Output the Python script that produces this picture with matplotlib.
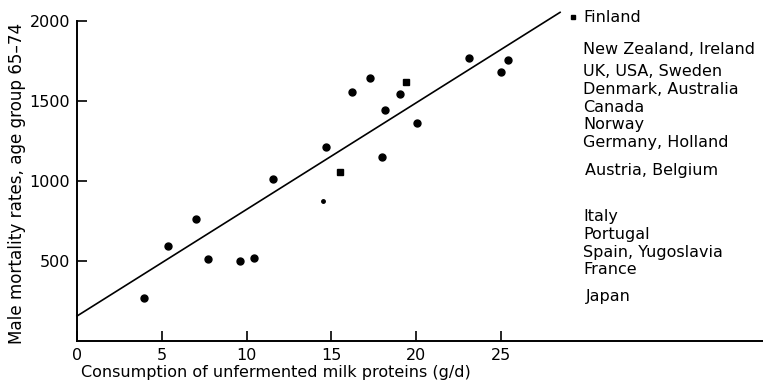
import matplotlib
matplotlib.use("Agg")
import matplotlib.pyplot as plt
import numpy as np

# ---- data ----
x_dots = [3.97, 5.35, 7.00, 7.75, 9.60, 10.46, 11.56, 14.71, 16.21, 17.30,
          18.15, 17.99, 19.07, 20.08, 23.14, 25.00, 25.43]
y_dots = [267, 596, 763, 513, 500, 521, 1013, 1213, 1554, 1642,
          1446, 1152, 1546, 1364, 1767, 1679, 1756]
x_squares = [15.50, 19.39]
y_squares = [1054, 1619]
x_small = [14.53]
y_small = [875]
finland_x = [29.26]
finland_y = [2025]

fit_intercept = 156
fit_slope = 66.6
fit_x = [0, 28.5]

x_ticks = [0, 5, 10, 15, 20, 25]
y_ticks = [500, 1000, 1500, 2000]

countries = ["Finland", "New Zealand, Ireland", "UK, USA, Sweden",
             "Denmark, Australia", "Canada", "Norway", "Germany, Holland",
             "Austria, Belgium", "Italy", "Portugal", "Spain, Yugoslavia",
             "France", "Japan"]
# pixel positions (y) of each label line in the figure
label_ypx = [17, 50, 71, 89, 107, 125, 143, 170, 216, 234, 252, 270, 297]
label_xpx = [583, 583, 583, 583, 583, 583, 583, 585, 583, 583, 583, 583, 586]

W, H = 763, 383
fig = plt.figure(figsize=(W / 100, H / 100), dpi=100)
ax = fig.add_axes([77 / W, (H - 341) / H, (W - 77) / W, 320 / H])
ax.set_xlim(0, (W - 77) / 16.95)
ax.set_ylim(0, 2000)

fs = 11.5
ax.plot(x_dots, y_dots, "o", color="black", ms=5, clip_on=False)
ax.plot(x_squares, y_squares, "s", color="black", ms=4.8, clip_on=False)
ax.plot(x_small, y_small, "o", color="black", ms=2.5, clip_on=False)
ax.plot(finland_x, finland_y, "s", color="black", ms=3.5, clip_on=False)

fx = np.array(fit_x)
ax.plot(fx, fit_intercept + fit_slope * fx, color="black", lw=1.2, clip_on=False)

for s in ["top", "right"]:
    ax.spines[s].set_visible(False)
for s in ["left", "bottom"]:
    ax.spines[s].set_linewidth(1.4)

ax.set_xticks(x_ticks)
ax.set_yticks(y_ticks)
ax.tick_params(direction="in", length=7, width=1.2, labelsize=fs, pad=5)

ax.set_xlabel("Consumption of unfermented milk proteins (g/d)", fontsize=fs)
ax.xaxis.set_label_coords((276 - 77) / (W - 77), (341 - 365) / 320)
ax.set_ylabel("Male mortality rates, age group 65\u201374", fontsize=12.1)
ax.yaxis.set_label_coords((26 - 77) / (W - 77), (341 - 183) / 320)

for name, xp, yp in zip(countries, label_xpx, label_ypx):
    fig.text(xp / W, 1 - yp / H, name, fontsize=fs, ha="left", va="center")

fig.savefig("out.png", dpi=100)
